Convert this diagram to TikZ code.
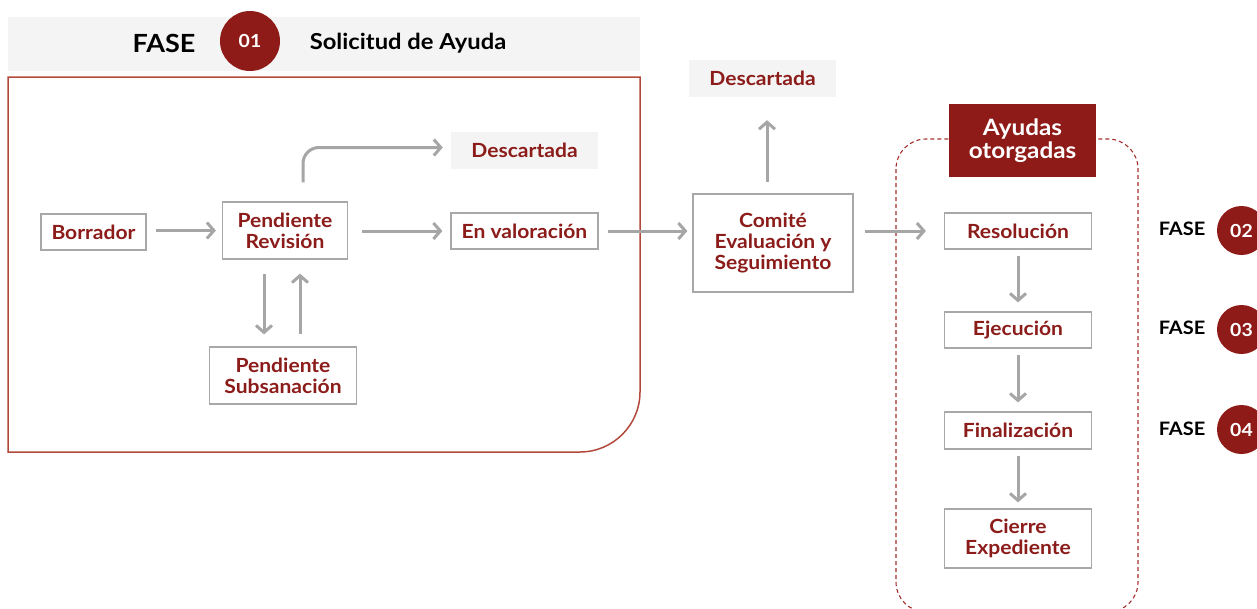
\documentclass[tikz,border=0pt]{standalone}
\usepackage{fontspec}
\setmainfont{Lato}[FakeStretch=1.08]
\usetikzlibrary{arrows.meta}
\definecolor{dred}{HTML}{8E1B17}
\definecolor{tred}{HTML}{8B1C1A}
\definecolor{bred}{HTML}{B24A3C}
\definecolor{dashred}{HTML}{A3302C}
\definecolor{gline}{HTML}{A8A8A8}
\definecolor{garr}{HTML}{A6A6A6}
\definecolor{gfill}{HTML}{F4F4F4}
\tikzset{
  box/.style={draw=gline, line width=1.2pt, fill=white, text=tred, font=\bfseries\fontsize{19.5}{21}\selectfont, align=center, inner sep=0pt},
  grey box/.style={fill=gfill, text=tred, font=\bfseries\fontsize{19.5}{21}\selectfont, align=center, inner sep=0pt},
  arr/.style={draw=garr, line width=3pt, -{Straight Barb[length=7pt,width=16pt]}},
  phase/.style={text=black, font=\bfseries\fontsize{18.5}{20}\selectfont},
  numcirc/.style={circle, fill=dred, text=white, font=\bfseries\fontsize{18}{20}\selectfont, inner sep=0pt}
}
\begin{document}
\begin{tikzpicture}[x=1pt,y=-1pt]
\useasboundingbox (0,0) rectangle (1257,608);
% header
\fill[gfill] (8,17) rectangle (640,71);
\node[text=black, font=\bfseries\fontsize{25}{27}\selectfont] (fase1) at (164,43) {FASE};
\node[numcirc, minimum size=60pt] (c1) at (250,41) {01};
\node[text=black, font=\bfseries\fontsize{22}{24}\selectfont] (title) at (408,43) {Solicitud de Ayuda};
% big red frame
\draw[bred, line width=1.5pt] (8,77) -- (640,77) -- (640,392) .. controls (640,425) and (613,452) .. (580,452) -- (8,452) -- cycle;
% dashed frame
\draw[dashred, line width=1.1pt, dash pattern=on 4pt off 3pt, rounded corners=30pt] (896,139) rectangle (1138,612);
% nodes
\node[box, minimum width=105pt, minimum height=36pt] (borr) at (93.5,232) {Borrador};
\node[box, minimum width=125pt, minimum height=57pt] (pr) at (285,230.5) {Pendiente\\Revisión};
\node[box, minimum width=147pt, minimum height=36pt] (ev) at (524.5,231) {En valoración};
\node[grey box, minimum width=147pt, minimum height=37pt] (desc1) at (524.5,150.5) {Descartada};
\node[box, minimum width=147pt, minimum height=57pt] (ps) at (283,375.5) {Pendiente\\Subsanación};
\node[box, minimum width=160pt, minimum height=98pt] (com) at (773,243) {Comité\\Evaluación y\\Seguimiento};
\node[grey box, minimum width=147pt, minimum height=37pt] (desc2) at (762.5,78.5) {Descartada};
\node[fill=dred, text=white, font=\bfseries\fontsize{22.5}{23}\selectfont, align=center, inner sep=0pt, minimum width=147pt, minimum height=73pt] (ayu) at (1022.5,140.5) {Ayudas\\otorgadas};
\node[box, minimum width=147pt, minimum height=36pt] (res) at (1018,231) {Resolución};
\node[box, minimum width=147pt, minimum height=36pt] (eje) at (1018,330) {Ejecución};
\node[box, minimum width=147pt, minimum height=37pt] (fin) at (1018,430.5) {Finalización};
\node[box, minimum width=147pt, minimum height=59pt] (cie) at (1018,538.5) {Cierre\\Expediente};
% phases
\node[phase] (f2) at (1182,229) {FASE};
\node[numcirc, minimum size=49pt] (c2) at (1241.5,230.5) {02};
\node[phase] (f3) at (1182,328) {FASE};
\node[numcirc, minimum size=49pt] (c3) at (1241.5,329.5) {03};
\node[phase] (f4) at (1182,429) {FASE};
\node[numcirc, minimum size=49pt] (c4) at (1241.5,429.5) {04};
% connectors
\draw[arr, shorten <=9pt, shorten >=6pt] (borr.east |- pr.west) -- (pr.west);
\draw[arr, shorten <=14pt, shorten >=8pt] (pr.east |- ev.west) -- (ev.west);
\draw[arr, shorten <=9pt, shorten >=5pt] (ev.east) -- (ev.east -| com.west);
\draw[arr, rounded corners=16pt, shorten >=8pt] ([xshift=18pt,yshift=19pt]pr.north) |- ([yshift=3pt]desc1.west);
\draw[arr, shorten <=14pt, shorten >=12pt] ([xshift=-21pt]pr.south) -- ([xshift=-21pt]pr.south |- ps.north);
\draw[arr, shorten <=12pt, shorten >=14pt] ([xshift=15pt]pr.south |- ps.north) -- ([xshift=15pt]pr.south);
\draw[arr, shorten <=11pt, shorten >=23pt] ([xshift=-6pt]com.north) -- ([xshift=-6pt]com.north |- desc2.south);
\draw[arr, shorten <=11pt, shorten >=18pt] (res.west -| com.east) -- (res.west);
\draw[arr, shorten <=6pt, shorten >=9pt] (res.south) -- (eje.north);
\draw[arr, shorten <=6pt, shorten >=9pt] (eje.south) -- (fin.north);
\draw[arr, shorten <=6pt, shorten >=6pt] (fin.south) -- (cie.north);
\end{tikzpicture}
\end{document}
